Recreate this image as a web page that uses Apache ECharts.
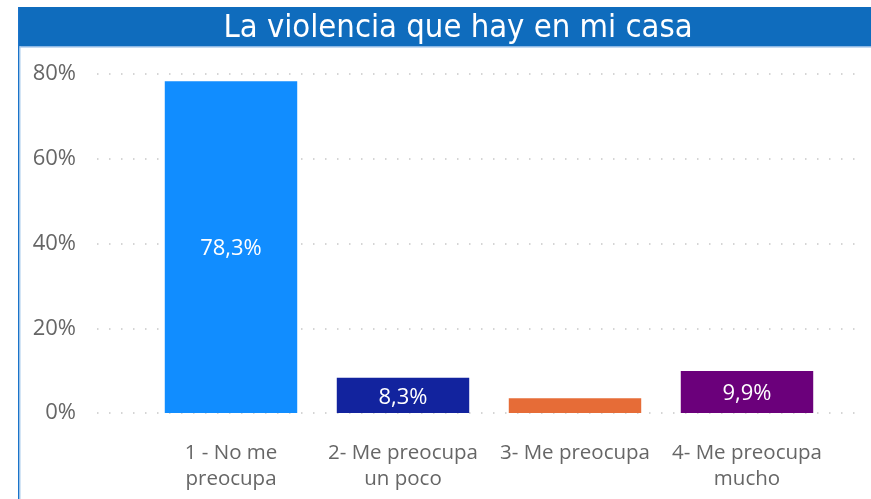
<!DOCTYPE html>
<html>
<head>
<meta charset="utf-8">
<script src="https://cdn.jsdelivr.net/npm/echarts@6/dist/echarts.min.js"></script>
<style>
  html, body { margin: 0; padding: 0; background: #ffffff; }
  #chart { width: 871px; height: 499px; }
</style>
</head>
<body>
<div id="chart"></div>
<script>
// Survey answers and their share of respondents (%)
const categories = [
  '1 - No me\npreocupa',
  '2- Me preocupa\nun poco',
  '3- Me preocupa',
  '4- Me preocupa\nmucho'
];
const shares = [78.3, 8.3, 3.5, 9.9];
const barColors = ['#118DFF', '#12239E', '#E66C37', '#6B007B'];
const showValue = [true, true, false, true];
const yTicks = [0, 20, 40, 60, 80];
const titleText = 'La violencia que hay en mi casa';

const labelFont = '"Open Sans", "Noto Sans", sans-serif';
const fmt = v => v.toFixed(1).replace('.', ',') + '%';

const chart = echarts.init(document.getElementById('chart'), null, { renderer: 'canvas' });

chart.setOption({
  animation: false,
  backgroundColor: '#ffffff',
  graphic: [
    // header band
    { type: 'rect', shape: { x: 18, y: 7, width: 853, height: 39 }, style: { fill: '#0F6CBD' }, z: 10 },
    { type: 'rect', shape: { x: 18, y: 46, width: 853, height: 1.5 }, style: { fill: '#8DB8E4' }, z: 10 },
    // left frame edge
    { type: 'rect', shape: { x: 18, y: 7, width: 1.5, height: 492 }, style: { fill: '#1A73C9' }, z: 10 },
    { type: 'rect', shape: { x: 19.5, y: 46, width: 1, height: 453 }, style: { fill: '#A9CBEB' }, z: 10 },
    {
      type: 'text', x: 458, y: 29, z: 11,
      style: {
        text: titleText, fill: '#ffffff',
        font: '500 32.5px "DejaVu Sans Condensed", "Liberation Sans Narrow", sans-serif',
        align: 'center', verticalAlign: 'middle'
      }
    }
  ],
  grid: [
    { left: 97, right: 11, top: 74, bottom: 86 },
    { left: 145, right: 38, top: 74, bottom: 86 }
  ],
  xAxis: [
    { gridIndex: 0, type: 'value', min: 0, max: 1, show: false },
    {
      gridIndex: 1, type: 'category', data: categories,
      axisLine: { show: false }, axisTick: { show: false },
      axisLabel: {
        color: '#666666', fontFamily: labelFont, fontSize: 20.5,
        lineHeight: 26, margin: 27, interval: 0
      }
    }
  ],
  yAxis: [
    {
      gridIndex: 0, type: 'value', min: yTicks[0], max: yTicks[yTicks.length - 1], interval: 20,
      axisLine: { show: false }, axisTick: { show: false },
      axisLabel: {
        color: '#666666', fontFamily: labelFont, fontSize: 22, margin: 21,
        formatter: v => v + '%'
      },
      splitLine: { show: true, lineStyle: { color: '#C8C8C8', width: 1.5, type: [1.5, 10.5] } }
    },
    {
      gridIndex: 1, type: 'value', min: yTicks[0], max: yTicks[yTicks.length - 1], interval: 20,
      show: false, splitLine: { show: false }
    }
  ],
  series: [
    {
      type: 'bar',
      xAxisIndex: 1, yAxisIndex: 1,
      barCategoryGap: '23%',
      data: shares.map((v, i) => ({
        value: v,
        itemStyle: { color: barColors[i] },
        label: { show: showValue[i] }
      })),
      label: {
        position: 'inside', color: '#ffffff', fontFamily: labelFont, fontSize: 22,
        offset: [0, 2],
        formatter: p => fmt(p.value)
      }
    }
  ]
});
</script>
</body>
</html>
